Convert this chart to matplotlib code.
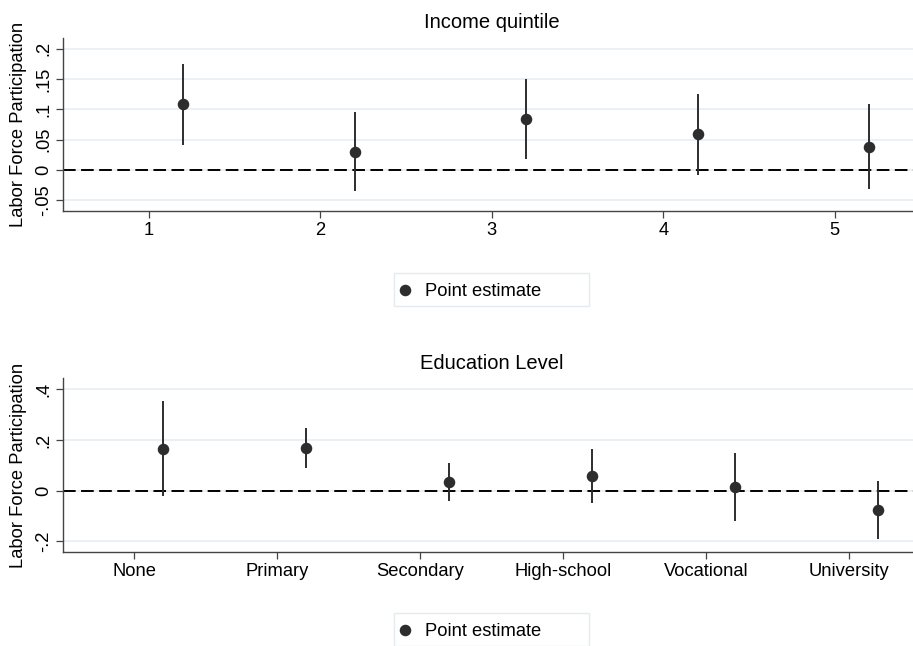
import matplotlib
matplotlib.use("Agg")
import matplotlib.pyplot as plt
from matplotlib.lines import Line2D
from matplotlib.patches import Rectangle

plt.rcParams['font.family'] = ['Liberation Sans', 'DejaVu Sans']

# Income quintile estimates
quintiles = [1, 2, 3, 4, 5]
quint_est = [0.108, 0.030, 0.084, 0.059, 0.038]
quint_lo = [0.041, -0.035, 0.018, -0.008, -0.031]
quint_hi = [0.174, 0.096, 0.150, 0.125, 0.109]

# Education level estimates
edu_labels = ["None", "Primary", "Secondary", "High-school", "Vocational", "University"]
edu_est = [0.165, 0.169, 0.036, 0.058, 0.016, -0.077]
edu_lo = [-0.021, 0.091, -0.040, -0.050, -0.120, -0.192]
edu_hi = [0.354, 0.248, 0.111, 0.166, 0.150, 0.037]

quint_yticks = [-0.05, 0, 0.05, 0.1, 0.15, 0.2]
quint_yticklabels = ["-.05", "0", ".05", ".1", ".15", ".2"]
edu_yticks = [-0.2, 0, 0.2, 0.4]
edu_yticklabels = ["-.2", "0", ".2", ".4"]

W, H = 913, 646
fig = plt.figure(figsize=(W / 100, H / 100), dpi=100)
fig.patch.set_facecolor("white")

MARK = "#2d2d2d"
GRID = "#e6eef1"
SPINE = "#444444"
TICK_FS = 13.2
TITLE_FS = 14.5
offset = 0.2


def panel(rect, xs, est, lo, hi, xlim, ylim, yticks, ylabels, xlabels, title):
    ax = fig.add_axes(rect)
    ax.set_xlim(*xlim)
    ax.set_ylim(*ylim)
    for y in yticks:
        ax.axhline(y, color=GRID, lw=1.2, zorder=0)
    ax.axhline(0, color="black", lw=1.4, ls=(0, (6.5, 2.8)), zorder=1)
    px = [x + offset for x in xs]
    ax.vlines(px, lo, hi, color=MARK, lw=1.4, zorder=2)
    ax.plot(px, est, "o", color=MARK, ms=7.3, zorder=3)
    ax.set_yticks(yticks)
    ax.set_yticklabels(ylabels, rotation=90, va="center", fontsize=TICK_FS)
    ax.set_xticks(xs)
    ax.set_xticklabels(xlabels, fontsize=TICK_FS)
    ax.tick_params(axis="both", length=5, width=0.9, color=SPINE, pad=3)
    ax.spines["top"].set_visible(False)
    ax.spines["right"].set_visible(False)
    for s in ("left", "bottom"):
        ax.spines[s].set_color(SPINE)
        ax.spines[s].set_linewidth(1.0)
    ax.set_ylabel("Labor Force Participation", fontsize=TICK_FS)
    ax.set_title(title, fontsize=TITLE_FS, pad=7)
    return ax


ax1 = panel([63 / W, 1 - 211 / H, (920.5 - 63) / W, (211 - 38) / H],
            quintiles, quint_est, quint_lo, quint_hi,
            (0.5, 5.5), (-0.0676, 0.2176),
            quint_yticks, quint_yticklabels, [str(q) for q in quintiles],
            "Income quintile")

edu_x = list(range(1, len(edu_labels) + 1))
ax2 = panel([63 / W, 1 - 552.3 / H, (920.5 - 63) / W, (552.3 - 378.3) / H],
            edu_x, edu_est, edu_lo, edu_hi,
            (0.5, 6.5), (-0.243, 0.4437),
            edu_yticks, edu_yticklabels, edu_labels,
            "Education Level")

ax1.yaxis.set_label_coords(-0.042, 0.5)
ax2.yaxis.set_label_coords(-0.042, 0.5)

# Legend boxes below each panel (key marker + label inside a light frame)
for top_px in (273, 613):
    box = Rectangle((394 / W, 1 - (top_px + 33) / H), 195 / W, 33 / H,
                    transform=fig.transFigure, facecolor="white",
                    edgecolor="#e4ecef", lw=1.0)
    fig.patches.append(box)
    yc = 1 - (top_px + 16.5) / H
    fig.add_artist(Line2D([405 / W], [yc], marker="o", color=MARK, ms=7.3,
                          ls="none", transform=fig.transFigure))
    fig.text(425 / W, yc - 1.5 / H, "Point estimate", fontsize=TICK_FS,
             va="center", ha="left")

fig.savefig("out.png", dpi=100)
